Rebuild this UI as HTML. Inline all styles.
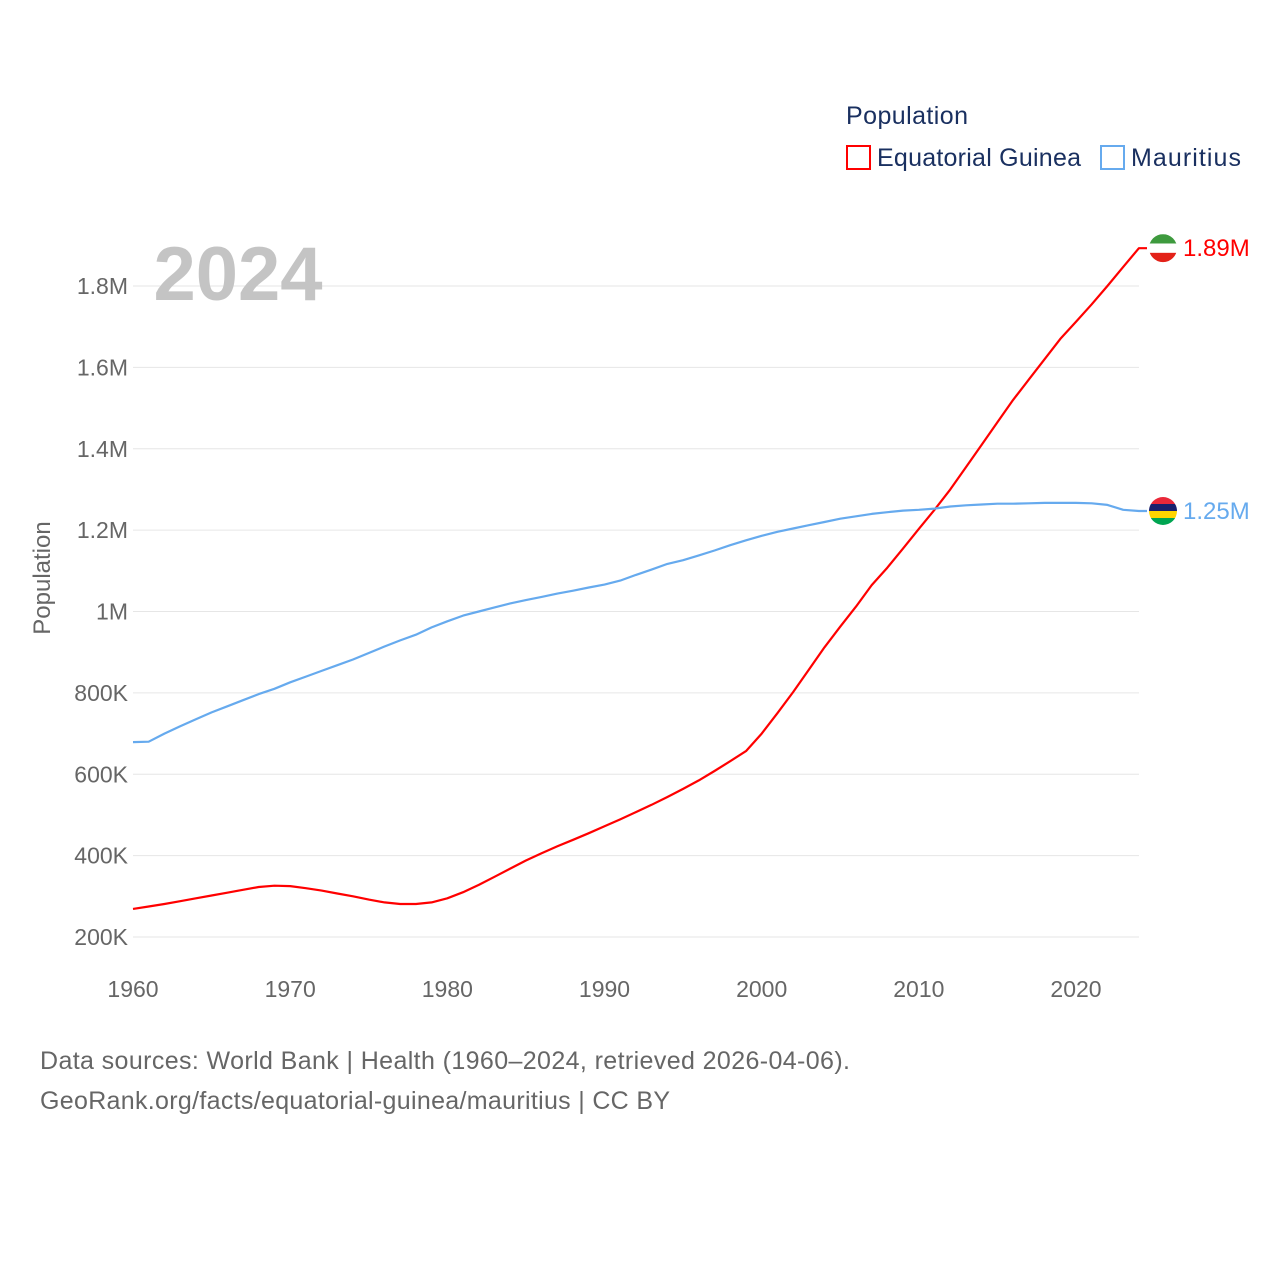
<!DOCTYPE html>
<html><head><meta charset="utf-8"><style>
body{margin:0;background:#fff;}
svg text{font-family:"Liberation Sans",sans-serif;}
</style></head><body>
<svg id="chart" width="1280" height="1280" xmlns="http://www.w3.org/2000/svg">
<rect width="1280" height="1280" fill="#fff"/>
<g id="grid"></g>
<text x="238" y="300" font-size="76" font-weight="bold" fill="#c4c4c4" text-anchor="middle">2024</text>
<g id="yticks"></g><g id="xticks"></g>
<text transform="translate(50,578) rotate(-90)" font-size="24" fill="#666" text-anchor="middle">Population</text>
<text x="846" y="124" font-size="25" fill="#1a3060" textLength="122">Population</text>
<g><rect x="847" y="146" width="23" height="23" fill="none" stroke="#ff0000" stroke-width="2"/><text x="877" y="166" font-size="25" fill="#1a3060" textLength="204">Equatorial Guinea</text></g>
<g><rect x="1101" y="146" width="23" height="23" fill="none" stroke="#66aaee" stroke-width="2"/><text x="1131" y="166" font-size="25" fill="#1a3060" textLength="110">Mauritius</text></g>
<g id="series"></g>
<text x="40" y="1069" font-size="25" fill="#666" textLength="810">Data sources: World Bank | Health (1960–2024, retrieved 2026-04-06).</text>
<text x="40" y="1109" font-size="25" fill="#666" textLength="630">GeoRank.org/facts/equatorial-guinea/mauritius | CC BY</text>
</svg>
<script>
const years=[];for(let y=1960;y<=2024;y++)years.push(y);
const eqGuinea=[269,275,281,288,295,302,309,316,323,326,325,320,314,307,300,292,285,281,281,285,295,310,328,348,368,388,406,423,439,455,472,489,507,525,544,564,585,608,632,657,700,750,802,857,912,963,1012,1065,1108,1155,1203,1250,1300,1355,1410,1465,1520,1570,1620,1670,1712,1755,1800,1847,1893];
const mauritius=[679,680,700,718,735,752,767,782,797,810,826,840,854,868,882,898,914,929,943,961,976,990,1000,1010,1020,1028,1036,1044,1051,1059,1066,1076,1090,1103,1117,1126,1138,1150,1163,1175,1186,1196,1204,1212,1220,1228,1234,1240,1244,1248,1250,1253,1258,1261,1263,1265,1265,1266,1267,1267,1267,1266,1262,1250,1247];
const yTicks=[200,400,600,800,1000,1200,1400,1600,1800];
const yTickLabels=["200K","400K","600K","800K","1M","1.2M","1.4M","1.6M","1.8M"];
const xTicks=[1960,1970,1980,1990,2000,2010,2020];
const endLabels=["1.89M","1.25M"];
const X=y=>133+(y-1960)*(1076-133)/60;
const Y=v=>937-(v-200)*651/1600;
const NS="http://www.w3.org/2000/svg";
function mk(t,a,p){const e=document.createElementNS(NS,t);for(const k in a)e.setAttribute(k,a[k]);p.appendChild(e);return e;}
const grid=document.getElementById('grid'),yt=document.getElementById('yticks'),xt=document.getElementById('xticks'),ser=document.getElementById('series');
yTicks.forEach((v,i)=>{
 const l=mk('line',{x1:133,x2:1139,y1:Y(v),y2:Y(v),stroke:'#e6e6e6','stroke-width':1},grid);
 
 
 const t=mk('text',{x:128,y:Y(v)+8,'font-size':23,fill:'#666','text-anchor':'end'},yt);t.textContent=yTickLabels[i];
 
 
});
xTicks.forEach(v=>{
 const t=mk('text',{x:X(v),y:997,'font-size':23,fill:'#666','text-anchor':'middle'},xt);t.textContent=v;
 
 
});
function line(data,color,name,label,flag){
 const d=data.map((v,i)=>(i?'L':'M')+X(years[i]).toFixed(1)+','+Y(v).toFixed(1)).join('')+'H1147';
 const p=mk('path',{d:d,fill:'none',stroke:color,'stroke-width':2.2,'stroke-linejoin':'round'},ser);
 
 
 const last=Y(data[data.length-1]);
 const g=mk('g',{},ser);
 
 
 mk('clipPath',{id:'c'+name},g);
 mk('circle',{cx:1163,cy:last,r:14},g.lastChild);
 const gg=mk('g',{'clip-path':'url(#c'+name+')'},g);
 flag.forEach((c,i)=>mk('rect',{x:1149,y:last-14+i*28/flag.length,width:28,height:28/flag.length+0.5,fill:c},gg));
 const t=mk('text',{x:1183,y:last+8,'font-size':24,fill:color},ser);t.textContent=label;
 
 
}
line(eqGuinea,'#ff0000','equatorial-guinea',endLabels[0],['#3e9a3e','#ffffff','#e32118']);
line(mauritius,'#66aaee','mauritius',endLabels[1],['#ea2839','#1a206d','#ffd500','#00a551']);
</script>
</body></html>
